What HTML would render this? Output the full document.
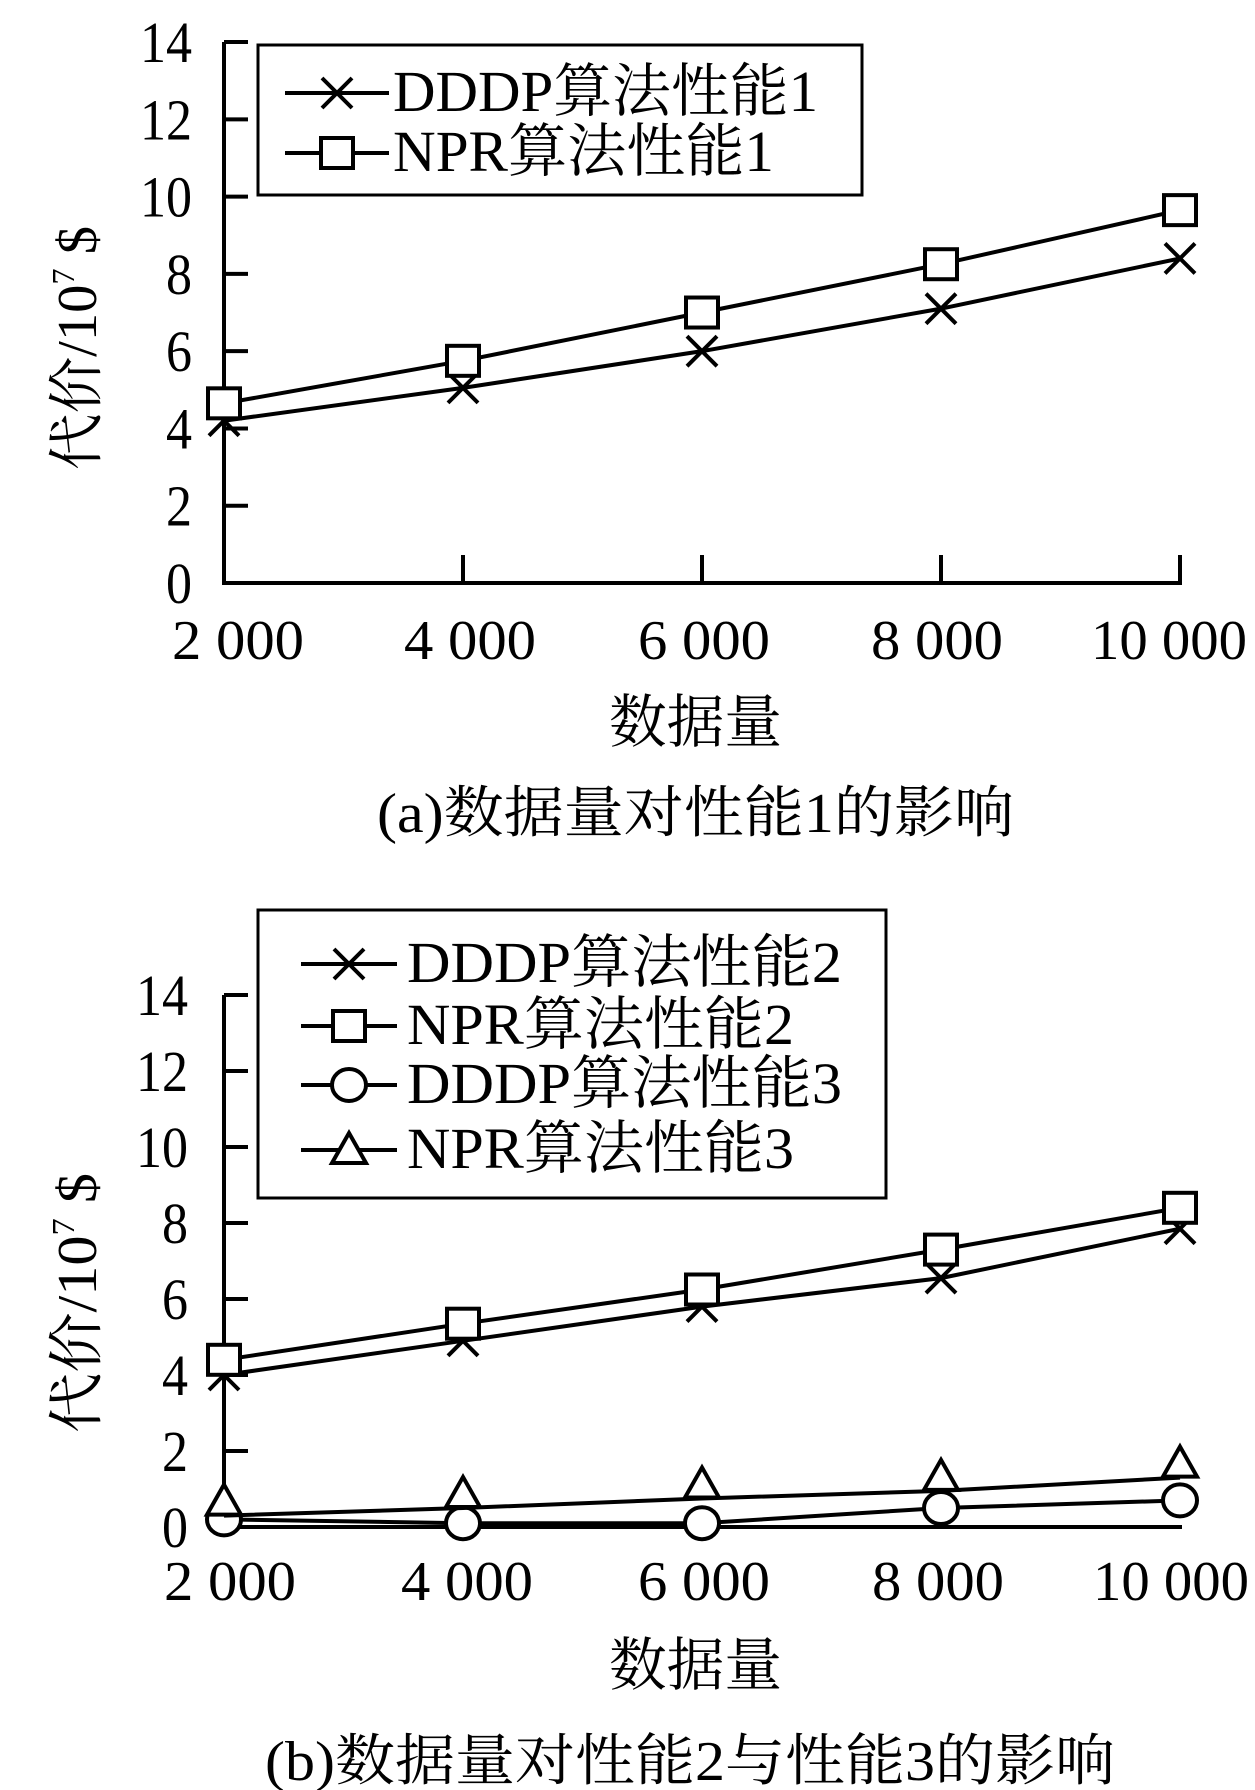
<!DOCTYPE html>
<html><head><meta charset="utf-8"><style>
html,body{margin:0;padding:0;background:#fff}
svg{display:block}
text{font-family:"Liberation Serif","Noto Serif CJK SC","Noto Sans CJK SC",serif;fill:#000}
</style></head><body>
<svg id="svg" width="1255" height="1790" viewBox="0 0 1255 1790" xmlns="http://www.w3.org/2000/svg">
<!-- Chart A static -->
<g>
<rect x="258" y="45" width="604" height="150" fill="none" stroke="#000" stroke-width="3"/>
<text transform="translate(96,348) rotate(-90)" text-anchor="middle" font-size="56" textLength="244" lengthAdjust="spacingAndGlyphs">代价/10<tspan font-size="32" dy="-22">7</tspan><tspan dy="22"> $</tspan></text>
<text x="609" y="742" font-size="58" textLength="173" lengthAdjust="spacingAndGlyphs">数据量</text>
<text x="377" y="832" font-size="56" textLength="637" lengthAdjust="spacingAndGlyphs">(a)数据量对性能1的影响</text>
</g>
<g>
<rect x="258" y="910" width="628" height="288" fill="none" stroke="#000" stroke-width="3"/>
<text transform="translate(96,1303) rotate(-90)" text-anchor="middle" font-size="56" textLength="260" lengthAdjust="spacingAndGlyphs">代价/10<tspan font-size="32" dy="-22">7</tspan><tspan dy="22"> $</tspan></text>
<text x="609" y="1685" font-size="58" textLength="173" lengthAdjust="spacingAndGlyphs">数据量</text>
<text x="265" y="1780" font-size="56" textLength="850" lengthAdjust="spacingAndGlyphs">(b)数据量对性能2与性能3的影响</text>
</g>
</svg>
<script>
const categories = [2000, 4000, 6000, 8000, 10000];
const xTickLabels = ["2 000", "4 000", "6 000", "8 000", "10 000"];
const yTickValues = [0, 2, 4, 6, 8, 10, 12, 14];
const dddp1 = [4.2, 5.05, 6.0, 7.1, 8.4];
const npr1 = [4.65, 5.75, 7.0, 8.25, 9.65];
const dddp2 = [4.0, 4.9, 5.8, 6.55, 7.85];
const npr2 = [4.4, 5.35, 6.25, 7.3, 8.4];
const dddp3 = [0.2, 0.1, 0.1, 0.5, 0.7];
const npr3 = [0.3, 0.5, 0.75, 0.95, 1.3];

const NS = "http://www.w3.org/2000/svg";
const svg = document.getElementById('svg');
function mk(tag, attrs, parent){const e=document.createElementNS(NS,tag);for(const k in attrs)e.setAttribute(k,attrs[k]);(parent||svg).appendChild(e);return e;}

function xScale(c){return 224 + (c-2000)/8000*956;}

function drawChart(cfg){
  const g = mk('g',{});
  
  
  const y = v => cfg.y0 - v*cfg.unit;
  // y axis
  const ya = mk('line',{x1:224,y1:y(14),x2:224,y2:y(0),stroke:'#000','stroke-width':4},g);
  
  
  const xa = mk('line',{x1:222,y1:y(0),x2:xScale(10000)+2,y2:y(0),stroke:'#000','stroke-width':4},g);
  
  
  yTickValues.forEach(v=>{
    if(v>0){const t=mk('line',{x1:224,y1:y(v),x2:248,y2:y(v),stroke:'#000','stroke-width':4},g);
    
    }
    const s=String(v);
    const lbl=mk('text',{x:cfg.yLabelRight,y:y(v)+20,'text-anchor':'end','font-size':58,textLength:s.length*26,lengthAdjust:'spacingAndGlyphs'},g);
    lbl.textContent=s;
    
    
  });
  categories.forEach((c,i)=>{
    if(cfg.xTicks && i>0){const t=mk('line',{x1:xScale(c),y1:y(0),x2:xScale(c),y2:y(0)-28,stroke:'#000','stroke-width':4},g);
    
    }
    const w = xTickLabels[i].length>5?156:132;
    const lbl=mk('text',{x:cfg.xLabelCenters[i],y:cfg.xLabelBase,'text-anchor':'middle','font-size':56,textLength:w,lengthAdjust:'spacingAndGlyphs'},g);
    lbl.textContent=xTickLabels[i];
    
    
  });
  cfg.series.forEach(s=>{
    const pts = s.data.map((v,i)=>xScale(categories[i])+','+y(v)).join(' ');
    const pl = mk('polyline',{points:pts,fill:'none',stroke:'#000','stroke-width':4},g);
    
    
    s.data.forEach((v,i)=>{
      const m = marker(s.marker, xScale(categories[i]), y(v)-(s.mOff||0), g);
      
      
    });
  });
  cfg.legend.forEach(L=>{
    const ln=mk('line',{x1:L.x1,y1:L.y,x2:L.x2,y2:L.y,stroke:'#000','stroke-width':4},g);
    
    
    const m=marker(L.marker,(L.x1+L.x2)/2,L.y,g);
    
    
    const t=mk('text',{x:L.tx,y:L.y+18,'font-size':58,textLength:L.tw,lengthAdjust:'spacingAndGlyphs'},g);
    t.textContent=L.text;
    
    
  });
}
function marker(type,cx,cy,g){
  if(type==='x'){
    return mk('path',{d:`M${cx-15},${cy-15}L${cx+15},${cy+15}M${cx+15},${cy-15}L${cx-15},${cy+15}`,stroke:'#000','stroke-width':4,fill:'none'},g);
  } else if(type==='sq'){
    return mk('rect',{x:cx-16,y:cy-15,width:32,height:30,fill:'#fff',stroke:'#000','stroke-width':4},g);
  } else if(type==='o'){
    return mk('ellipse',{cx:cx,cy:cy,rx:17,ry:16,fill:'#fff',stroke:'#000','stroke-width':4},g);
  } else {
    return mk('path',{d:`M${cx},${cy-17}L${cx+17},${cy+13}L${cx-17},${cy+13}Z`,fill:'#fff',stroke:'#000','stroke-width':4},g);
  }
}
drawChart({name:'plot-a', y0:583, unit:38.64, yLabelRight:192, xTicks:true,
  xLabelCenters:[238,470,704,937,1169], xLabelBase:659,
  series:[{name:'dddp1',data:dddp1,marker:'x'},{name:'npr1',data:npr1,marker:'sq'}],
  legend:[{x1:285,x2:389,y:93,marker:'x',tx:393,tw:425,text:'DDDP算法性能1'},
          {x1:285,x2:389,y:153,marker:'sq',tx:393,tw:381,text:'NPR算法性能1'}]});
drawChart({name:'plot-b', y0:1527, unit:38.0, yLabelRight:188, xTicks:false,
  xLabelCenters:[230,467,704,938,1171], xLabelBase:1600,
  series:[{name:'dddp2',data:dddp2,marker:'x'},{name:'npr2',data:npr2,marker:'sq'},
          {name:'dddp3',data:dddp3,marker:'o'},{name:'npr3',data:npr3,marker:'tri',mOff:14}],
  legend:[{x1:301,x2:397,y:964,marker:'x',tx:407,tw:435,text:'DDDP算法性能2'},
          {x1:301,x2:397,y:1026,marker:'sq',tx:407,tw:387,text:'NPR算法性能2'},
          {x1:301,x2:397,y:1085,marker:'o',tx:407,tw:435,text:'DDDP算法性能3'},
          {x1:301,x2:397,y:1150,marker:'tri',tx:407,tw:387,text:'NPR算法性能3'}]});
</script>
</body></html>
